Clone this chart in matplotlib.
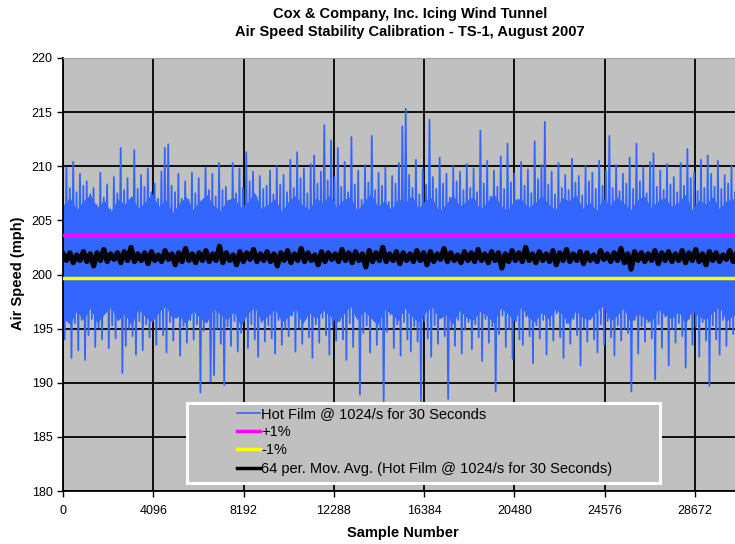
import numpy as np
import matplotlib.pyplot as plt
from matplotlib.patches import Rectangle

plt.rcParams['font.family'] = ['Liberation Sans', 'DejaVu Sans']

# Hot film samples, read as alternating local peaks / troughs of the trace
upper_peaks = [
    206.5, 209.9, 208.0, 210.4, 207.6, 209.3, 208.2, 208.6, 207.4, 208.0, 206.4, 209.4, 207.1, 208.3, 206.0, 209.0, 207.5, 211.7, 207.8, 208.9,
    205.0, 211.5, 207.9, 209.2, 208.1, 209.8, 207.6, 208.4, 207.0, 209.5, 211.7, 212.0, 208.2, 207.6, 209.3, 207.0, 208.6, 206.9, 209.4, 207.5,
    208.9, 206.6, 209.9, 207.8, 209.3, 207.2, 210.3, 207.8, 208.1, 206.8, 210.3, 207.5, 209.8, 208.0, 211.3, 208.6, 209.5, 207.2, 209.1, 207.9,
    208.2, 209.6, 207.4, 210.0, 208.3, 209.2, 207.6, 210.6, 208.0, 211.3, 208.9, 209.8, 207.5, 210.2, 211.0, 208.4, 209.5, 213.8, 208.7, 212.4,
    209.0, 211.7, 208.1, 210.4, 207.6, 212.7, 208.3, 209.6, 206.9, 210.1, 208.5, 212.8, 207.8, 209.4, 208.2, 209.9, 206.7, 209.1, 208.4, 210.3,
    213.7, 215.3, 209.2, 208.0, 210.6, 207.4, 209.7, 208.3, 214.3, 209.0, 207.9, 210.8, 208.4, 209.3, 207.1, 210.0, 208.6, 209.5, 207.8, 210.2,
    208.0, 209.8, 207.6, 213.3, 208.4, 210.5, 207.2, 209.6, 208.1, 210.9, 207.9, 212.1, 208.5, 209.3, 206.9, 210.4, 208.2, 209.7, 207.5, 212.3,
    208.8, 210.1, 214.1, 208.3, 209.5, 207.4, 210.3, 208.0, 209.2, 207.8, 210.7, 208.5, 209.1, 207.3, 210.0, 208.6, 209.4, 207.9, 210.5, 208.2,
    209.6, 212.8, 208.0, 210.1, 207.7, 209.3, 208.4, 210.8, 207.9, 212.1, 208.6, 209.9, 207.5, 210.4, 211.2, 208.1, 209.6, 207.8, 210.2, 208.3,
    209.0, 207.6, 210.3, 208.2, 211.6, 208.9, 209.4, 207.7, 210.6, 208.0, 211.0, 209.3, 208.1, 210.5, 207.9, 209.2, 208.4, 210.0, 207.6, 209.8,
]
lower_peaks = [
    194.0, 196.2, 192.3, 195.5, 193.0, 195.8, 192.1, 194.4, 195.9, 193.3, 195.1, 194.0, 196.8, 193.2, 195.3, 194.1, 195.9, 190.9, 193.4, 195.0,
    194.3, 192.6, 195.7, 193.0, 195.4, 194.2, 196.4, 193.5, 195.1, 194.4, 192.8, 195.6, 193.9, 196.0, 192.5, 195.2, 193.7, 195.8, 194.0, 195.4,
    189.1, 194.8, 196.3, 190.1, 190.7, 195.0, 193.6, 189.8, 195.2, 193.4, 195.7, 192.9, 194.6, 196.1, 193.2, 195.4, 194.0, 192.4, 195.6, 193.8,
    195.3, 194.1, 192.7, 195.8, 193.5, 195.0, 194.3, 196.2, 192.9, 195.1, 193.6, 195.9, 194.2, 192.3, 195.4, 193.7, 196.0, 194.4, 192.6, 195.2,
    193.9, 195.7, 194.0, 192.1, 195.5, 193.3, 196.1, 188.9, 194.6, 195.3, 192.8, 195.8, 193.5, 195.0, 188.3, 194.7, 196.3, 193.2, 195.4, 192.5,
    195.6, 194.0, 192.9, 195.2, 193.8, 188.3, 195.7, 194.1, 192.4, 195.3, 193.6, 196.0, 194.3, 188.5, 195.1, 193.4, 195.8, 192.7, 194.9, 195.6,
    193.1, 195.4, 194.2, 192.0, 195.9, 193.7, 195.2, 189.2, 194.5, 196.2, 193.3, 195.0, 192.2, 195.7, 194.0, 193.5, 196.1, 194.3, 191.8, 195.3,
    194.1, 195.8, 192.6, 195.2, 193.9, 196.4, 194.2, 192.3, 195.5, 193.6, 195.9, 194.4, 191.6, 195.1, 193.8, 196.2, 194.0, 192.8, 195.4, 193.5,
    195.7, 194.2, 192.5, 195.3, 193.9, 195.0, 194.6, 189.2, 195.8, 192.7, 195.2, 193.8, 195.6, 194.1, 190.3, 195.4, 193.2, 196.1, 191.6, 195.0,
    193.7, 195.5, 194.3, 191.4, 195.9, 193.5, 195.2, 192.4, 195.6, 193.9, 189.7, 195.3, 194.0, 192.6, 195.8, 193.4, 195.1, 194.5, 196.0, 193.8,
]
# edges of the solid part of the hot film trace (where the samples overlap)
band_top = [
    206.4, 207.1, 206.0, 206.8, 207.4, 206.2, 206.9, 205.8, 207.0, 206.5, 207.3, 206.1, 206.7, 207.5, 206.3, 206.9, 205.7, 206.6, 207.2, 206.0,
    206.8, 207.4, 206.4, 205.9, 206.9, 207.1, 206.2, 206.7, 207.6, 206.1, 206.5, 207.0, 205.8, 206.8, 207.3, 206.4, 206.0, 207.1, 206.6, 207.4,
    206.2, 206.9, 207.2, 205.9, 206.7, 207.5, 206.3, 206.8, 206.0, 207.0, 206.6, 207.3, 206.1, 206.9, 207.1, 205.8, 206.5, 207.4, 206.3, 206.8,
    207.2, 206.0, 206.7, 207.5, 206.4, 205.9, 206.9, 207.0, 206.2, 206.6, 207.3, 206.5, 206.0, 207.1, 206.8, 207.4, 206.1, 206.7, 205.9, 207.0,
    206.4, 207.2, 206.6, 206.0, 206.9, 207.3, 206.2, 206.8, 207.1, 206.3, 206.7, 207.4, 206.0, 206.9, 206.5, 207.2, 206.1, 206.8, 207.0, 206.4,
]
band_bottom = [
    196.0, 195.4, 196.6, 195.8, 196.9, 195.5, 196.3, 197.0, 195.7, 196.4, 195.3, 196.8, 196.1, 195.6, 196.5, 197.1, 195.9, 196.2, 195.4, 196.7,
    196.0, 195.5, 196.9, 196.3, 195.8, 196.6, 195.2, 196.4, 197.0, 195.7, 196.2, 196.8, 195.6, 196.1, 196.9, 195.4, 196.5, 195.9, 196.7, 196.2,
    195.5, 196.3, 197.1, 195.8, 196.6, 196.0, 195.3, 196.8, 196.4, 195.7, 196.9, 196.1, 195.6, 196.5, 197.0, 195.9, 196.3, 195.4, 196.7, 196.0,
    195.8, 196.6, 196.2, 195.5, 196.9, 196.4, 195.7, 197.0, 196.1, 195.6, 196.5, 195.9, 196.8, 196.3, 195.4, 196.7, 196.0, 195.8, 196.6, 197.1,
    195.7, 196.2, 196.9, 195.5, 196.4, 196.0, 195.6, 196.8, 196.3, 195.9, 196.6, 195.4, 196.7, 196.1, 195.8, 196.5, 197.0, 195.7, 196.2, 196.4,
]

# 64 period moving average of the hot film signal
moving_avg = [
    201.9, 201.3, 202.0, 201.1, 201.8, 201.3, 202.1, 201.2, 201.9, 200.8, 202.0, 201.3, 202.3, 201.2, 201.9, 201.4, 202.0, 201.1, 202.1, 201.3,
    202.5, 201.2, 201.9, 201.3, 202.0, 201.0, 202.1, 201.3, 201.8, 201.2, 202.2, 201.4, 201.9, 200.9, 202.0, 201.2, 202.4, 201.3, 201.9, 201.1,
    202.0, 201.3, 202.2, 201.2, 201.9, 201.3, 202.6, 201.1, 202.0, 201.3, 201.8, 200.9, 202.1, 201.2, 202.0, 201.4, 202.3, 201.2, 201.9, 201.3,
    202.1, 201.2, 201.9, 200.8, 202.0, 201.3, 202.2, 201.1, 201.9, 201.3, 202.4, 201.2, 202.0, 201.3, 201.8, 200.9, 202.1, 201.2, 202.0, 201.4,
    201.9, 201.2, 202.3, 201.3, 202.0, 201.1, 202.1, 201.3, 201.9, 200.7, 202.2, 201.2, 202.0, 201.3, 202.5, 201.2, 201.9, 201.3, 202.1, 201.0,
    202.0, 201.3, 201.9, 201.2, 202.2, 201.3, 202.0, 200.9, 202.1, 201.2, 201.9, 201.4, 202.4, 201.2, 202.0, 201.3, 201.8, 201.1, 202.1, 201.3,
    202.0, 201.2, 202.3, 201.3, 201.9, 201.1, 202.1, 201.3, 202.0, 200.6, 201.9, 201.2, 202.2, 201.3, 202.0, 201.2, 202.5, 201.3, 201.9, 201.1,
    202.1, 201.3, 201.9, 201.2, 202.2, 200.9, 202.0, 201.3, 202.3, 201.2, 201.9, 201.3, 202.1, 201.0, 202.0, 201.3, 201.8, 201.2, 202.2, 201.4,
    201.9, 201.2, 202.0, 201.3, 202.4, 201.1, 201.9, 200.5, 202.1, 201.3, 202.0, 201.2, 201.9, 201.3, 202.2, 201.0, 202.0, 201.3, 202.1, 201.2,
    201.9, 201.3, 202.2, 201.1, 202.0, 201.3, 202.3, 201.2, 201.9, 200.9, 202.1, 201.3, 202.0, 201.2, 201.8, 201.4, 202.2, 201.2, 202.0, 201.3,
]

plus_1pct = 203.68
minus_1pct = 199.65
n_samples = 30720
x_ticks = [0, 4096, 8192, 12288, 16384, 20480, 24576, 28672]
y_ticks = [180, 185, 190, 195, 200, 205, 210, 215, 220]

hot_film = np.column_stack((upper_peaks, lower_peaks)).ravel()
x_hot = np.linspace(0, n_samples - 1, len(hot_film))
x_band = np.linspace(0, n_samples - 1, len(band_top))
x_ma = np.linspace(0, n_samples - 1, len(moving_avg))

fig = plt.figure(figsize=(7.35, 5.44), dpi=100)
ax = fig.add_axes([63 / 735, 1 - 491 / 544, 677 / 735, 433 / 544])
ax.set_facecolor('#C0C0C0')

blue = '#3366FF'
ax.fill_between(x_band, band_bottom, band_top, color=blue, linewidth=0, zorder=2)
ax.plot(x_hot, hot_film, color=blue, linewidth=1.3, zorder=2,
        label='Hot Film @ 1024/s for 30 Seconds')
ax.plot([0, n_samples], [plus_1pct, plus_1pct], color='#FF00FF', linewidth=2.5, zorder=3, label='+1%')
ax.plot([0, n_samples], [minus_1pct, minus_1pct], color='#FFFF00', linewidth=2.5, zorder=3, label='-1%')
ax.plot(x_ma, moving_avg, color='black', linewidth=3.8, zorder=4,
        label='64 per. Mov. Avg. (Hot Film @ 1024/s for 30 Seconds)')

ax.set_xlim(0, n_samples)
ax.set_ylim(180, 220)
ax.set_xticks(x_ticks)
ax.set_yticks(y_ticks)
ax.tick_params(axis='both', labelsize=9, direction='out', length=4, width=1, color='black')
ax.tick_params(axis='x', pad=6)
ax.grid(True, color='black', linewidth=1.3, zorder=0)
ax.set_axisbelow(True)

ax.spines['right'].set_visible(False)
ax.spines['top'].set_color('#A0A0A0')
ax.spines['left'].set_linewidth(1.3)
ax.spines['bottom'].set_linewidth(1.3)

fig.text(403 / 735, 1 - 533 / 544, 'Sample Number', fontsize=10.5, fontweight='bold',
         ha='center', va='center')
fig.text(18 / 735, 1 - 273 / 544, 'Air Speed (mph)', rotation=90, fontsize=10.5,
         fontweight='bold', ha='center', va='center')

fig.text(410 / 735, 1 - 14 / 544, 'Cox & Company, Inc. Icing Wind Tunnel',
         fontsize=10.5, fontweight='bold', ha='center', va='center')
fig.text(410 / 735, 1 - 32 / 544, 'Air Speed Stability Calibration - TS-1, August 2007',
         fontsize=10.5, fontweight='bold', ha='center', va='center')

# legend box (Excel style, grey with white border)
box = Rectangle((124 / 677, 8 / 433), 473 / 677, 80 / 433, transform=ax.transAxes,
                facecolor='#C0C0C0', edgecolor='white', linewidth=2.2, zorder=5)
ax.add_patch(box)
leg = ax.legend(loc='upper left', bbox_to_anchor=(174 / 677, 84 / 433), frameon=False,
                fontsize=10.5, handlelength=1.6, handletextpad=0.05, labelspacing=0.29,
                borderpad=0, borderaxespad=0)
leg.set_zorder(6)
leg.legend_handles[0].set_linewidth(1.2)
leg.legend_handles[3].set_linewidth(2.5)

fig.savefig('out.png', dpi=100)
